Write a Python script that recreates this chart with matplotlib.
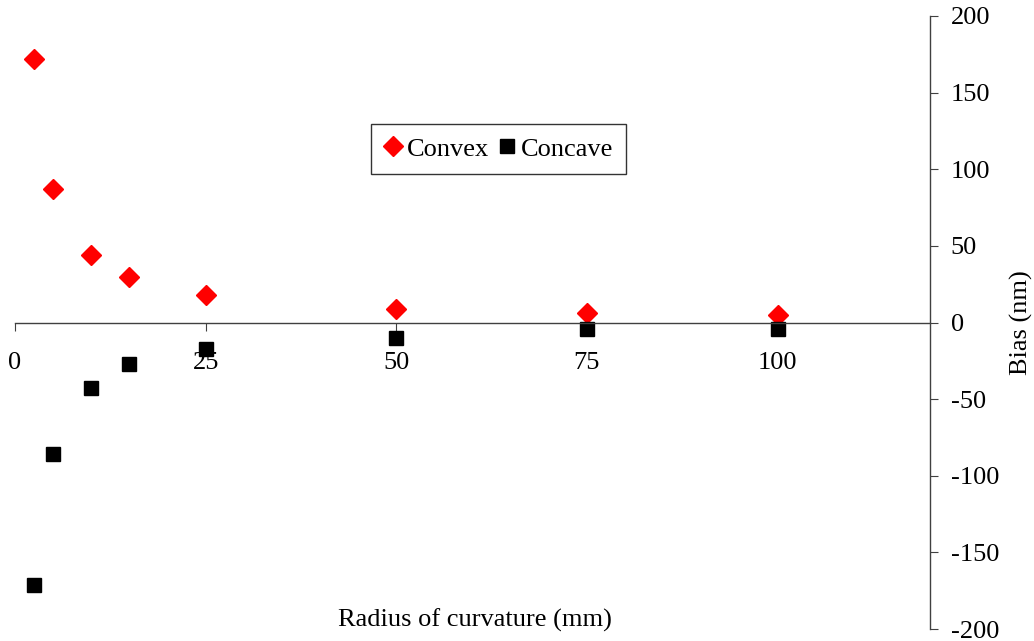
import matplotlib
matplotlib.use("Agg")
import matplotlib.pyplot as plt

# radius of curvature (mm) and measured bias (nm)
radius = [2.5, 5, 10, 15, 25, 50, 75, 100]
convex_bias = [172, 87, 44, 30, 18, 9, 6.5, 5]
concave_bias = [-171, -86, -43, -27, -17, -10, -4, -4]

x_ticks = [0, 25, 50, 75, 100]
y_ticks = [-200, -150, -100, -50, 0, 50, 100, 150, 200]

plt.rcParams["font.family"] = ["Liberation Serif", "DejaVu Serif"]
plt.rcParams["font.size"] = 19
plt.rcParams["axes.unicode_minus"] = False

fig = plt.figure(figsize=(10.34, 6.41), dpi=100)
W, H = 1034, 641
ax = fig.add_axes([15 / W, 1 - 629 / H, (930 - 15) / W, (629 - 16) / H])

ax.plot(radius, convex_bias, "D", color="#ff0000", ms=10, mec="#ff0000",
        ls="none", label="Convex")
ax.plot(radius, concave_bias, "s", color="black", ms=9.5,
        ls="none", label="Concave")

ax.set_xlim(0, 120)
ax.set_ylim(-200, 200)

# x axis runs through y = 0
ax.spines["left"].set_visible(False)
ax.spines["top"].set_visible(False)
ax.spines["bottom"].set_position(("data", 0))
for s in ("bottom", "right"):
    ax.spines[s].set_color("#404040")
    ax.spines[s].set_linewidth(1.0)

ax.set_xticks(x_ticks)
ax.set_yticks(y_ticks)
ax.yaxis.tick_right()
ax.yaxis.set_label_position("right")
ax.tick_params(axis="x", direction="out", length=6, pad=15, color="#404040")
ax.tick_params(axis="y", direction="out", length=6, pad=9, color="#404040")

ax.set_ylabel("Bias (nm)", labelpad=8)
fig.text(475 / W, 1 - 620 / H, "Radius of curvature (mm)",
         ha="center", va="center", fontsize=19)

leg = ax.legend(loc="upper left", bbox_to_anchor=((371 - 15) / (930 - 15), 1 - (124 - 16) / (629 - 16)),
                ncol=2, frameon=True, fancybox=False, handlelength=0.7,
                handletextpad=0.15, columnspacing=0.35, borderpad=0.5,
                borderaxespad=0, edgecolor="black", fontsize=19)
leg.get_frame().set_linewidth(1.0)

fig.savefig("out.png", dpi=100)
